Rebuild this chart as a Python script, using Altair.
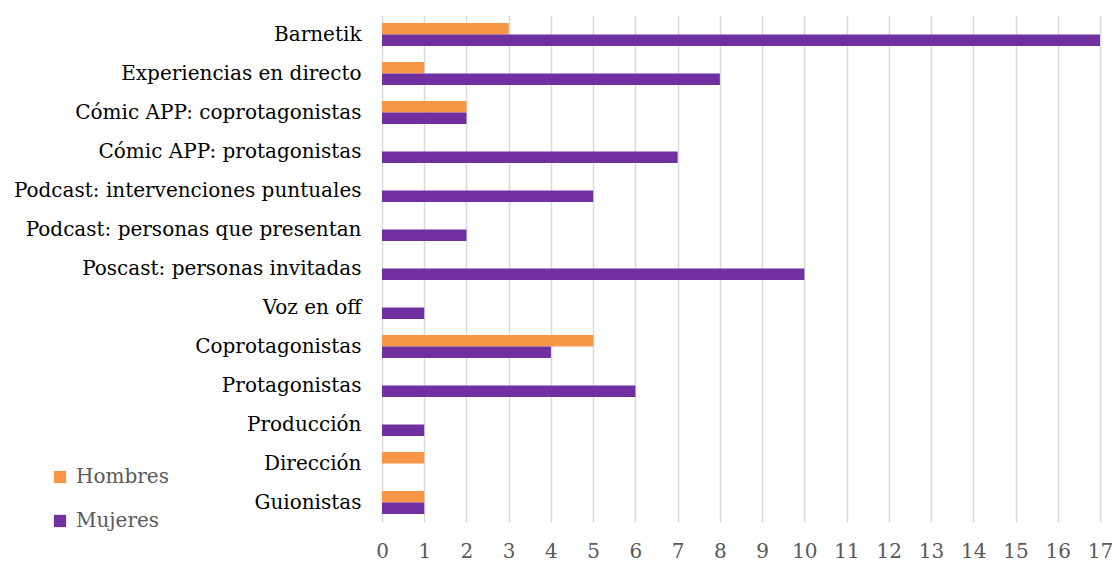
import altair as alt
import pandas as pd

categories = [
    "Barnetik",
    "Experiencias en directo",
    "Cómic APP: coprotagonistas",
    "Cómic APP: protagonistas",
    "Podcast: intervenciones puntuales",
    "Podcast: personas que presentan",
    "Poscast: personas invitadas",
    "Voz en off",
    "Coprotagonistas",
    "Protagonistas",
    "Producción",
    "Dirección",
    "Guionistas",
]
hombres = [3, 1, 2, 0, 0, 0, 0, 0, 5, 0, 0, 1, 1]
mujeres = [17, 8, 2, 7, 5, 2, 10, 1, 4, 6, 1, 0, 1]
series = ["Hombres", "Mujeres"]
colors = ["#F79646", "#7030A0"]
ticks = list(range(0, 18))

rows = []
for c, h, m in zip(categories, hombres, mujeres):
    rows.append({"cat": c, "serie": "Hombres", "val": h})
    rows.append({"cat": c, "serie": "Mujeres", "val": m})
df = pd.DataFrame(rows)

FONT = "DejaVu Serif"

chart = alt.Chart(df).mark_bar().encode(
    y=alt.Y("cat:N", sort=categories, title=None,
            scale=alt.Scale(paddingInner=0.41, paddingOuter=0.205),
            axis=alt.Axis(labelFont=FONT, labelFontSize=20, labelColor="#000000",
                          labelLimit=500, ticks=False, domain=False, labelPadding=21)),
    yOffset=alt.YOffset("serie:N", sort=series),
    x=alt.X("val:Q", title=None,
            scale=alt.Scale(domain=[0, 17], nice=False),
            axis=alt.Axis(values=ticks, labelFont=FONT, labelFontSize=20,
                          labelColor="#595959", ticks=False, domain=False,
                          grid=True, gridColor="#D9D9D9", gridWidth=1.5,
                          labelFlush=False, labelPadding=19)),
    color=alt.Color("serie:N", sort=series,
                    scale=alt.Scale(domain=series, range=colors),
                    legend=alt.Legend(title=None, orient="none", legendX=-332, legendY=452,
                                      symbolType="square", symbolSize=150,
                                      symbolStrokeWidth=0, labelFont=FONT,
                                      labelFontSize=20, labelColor="#595959",
                                      rowPadding=24, labelOffset=6)),
).properties(
    width=718, height=507,
    autosize=alt.AutoSizeParams(type="none"),
    padding={"left": 374, "top": 7, "right": 12, "bottom": 39},
).configure_view(stroke=None)

chart.save("out.html", embed_options={"renderer": "svg", "actions": False})
